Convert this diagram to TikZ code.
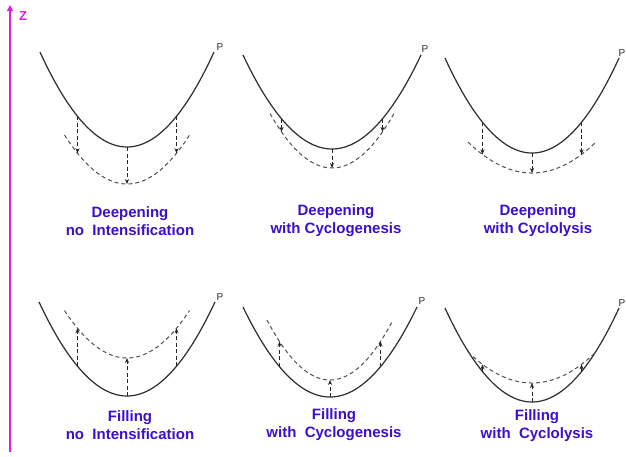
\documentclass[tikz,border=0pt]{standalone}
\usepackage{fontspec}
\setmainfont{Liberation Sans}
\usetikzlibrary{arrows.meta}
\definecolor{lbl}{RGB}{60,15,205}
\definecolor{zaxis}{RGB}{225,30,225}
\definecolor{curvecol}{RGB}{45,45,45}
\definecolor{dashcol}{RGB}{80,80,80}
\tikzset{
  solidcurve/.style={draw=curvecol, line width=1.2pt},
  dashcurve/.style={draw=dashcol, line width=1pt, dash pattern=on 4pt off 3pt},
  shiftarrow/.style={draw=black!85, line width=0.8pt, dash pattern=on 4pt off 2.5pt, -{Stealth[length=5pt,width=4pt]}},
  caselabel/.style={text=lbl, font=\fontsize{15}{18}\selectfont\bfseries, align=center},
  plabel/.style={font=\fontsize{10}{10}\selectfont, text=curvecol, inner sep=0pt}
}
% #1 centre x, #2 solid bottom y, #3 solid curvature, #4 solid half width,
% #5 dashed bottom y, #6 dashed curvature, #7 dashed half width, #8 arrow offset
\newcommand{\cyclpanel}[8]{%
  \draw[solidcurve] plot[domain=-#4:#4, samples=70, smooth] ({#1+\x},{#2-#3*(\x)*(\x)});
  \draw[dashcurve] plot[domain=-#7:#7, samples=70, smooth] ({#1+\x},{#5-#6*(\x)*(\x)});
  \foreach \d in {-#8,0,#8} {
    \coordinate (s) at ({#1+\d},{#2-#3*(\d)*(\d)});
    \coordinate (e) at ({#1+\d},{#5-#6*(\d)*(\d)});
    \draw[shiftarrow] (s) -- (e);
  }
}
\begin{document}
\begin{tikzpicture}[x=1pt,y=-1pt]
  \fill[white] (0,0) rectangle (626,456);
  \useasboundingbox (0,0) rectangle (626,456);
  % vertical axis
  \coordinate (zb) at (10,452);
  \coordinate (zt) at (10,5);
  \draw[zaxis, line width=2.5pt, -{Triangle[length=6pt,width=6pt]}] (zb) -- (zt);
  \node[text=zaxis, font=\fontsize{13}{13}\selectfont\bfseries] (z) at (23,16) {Z};
  % top row: deepening
  \cyclpanel{127}{147}{0.01255}{87}{184}{0.01255}{62.5}{49.5}
  \cyclpanel{332}{149}{0.01187}{89}{168}{0.01416}{62}{50.5}
  \cyclpanel{532}{153}{0.01255}{87}{173}{0.00757}{64}{49.5}
  % bottom row: filling
  \cyclpanel{127}{396}{0.01214}{88}{358}{0.01214}{62.5}{49.5}
  \cyclpanel{330}{397}{0.01189}{87}{380}{0.0151}{63}{50.5}
  \cyclpanel{532}{402}{0.0124}{87}{383}{0.0076}{64}{49.5}
  % P labels
  \node[plabel] (p1) at (220,47) {P};
  \node[plabel] (p2) at (425,49) {P};
  \node[plabel] (p3) at (622,53) {P};
  \node[plabel] (p4) at (220,297) {P};
  \node[plabel] (p5) at (422,301) {P};
  \node[plabel] (p6) at (622,303) {P};
  % case labels
  \node[caselabel] (l1) at (130,221) {Deepening\\no\ \ Intensification};
  \node[caselabel] (l2) at (336,221) {Deepening\\with Cyclogenesis};
  \node[caselabel] (l3) at (538,221) {Deepening\\with Cyclolysis};
  \node[caselabel] (l4) at (130,425) {Filling\\no\ \ Intensification};
  \node[caselabel] (l5) at (334,425) {Filling\\with\ \ Cyclogenesis};
  \node[caselabel] (l6) at (537,426) {Filling\\with\ \ Cyclolysis};
\end{tikzpicture}
\end{document}
